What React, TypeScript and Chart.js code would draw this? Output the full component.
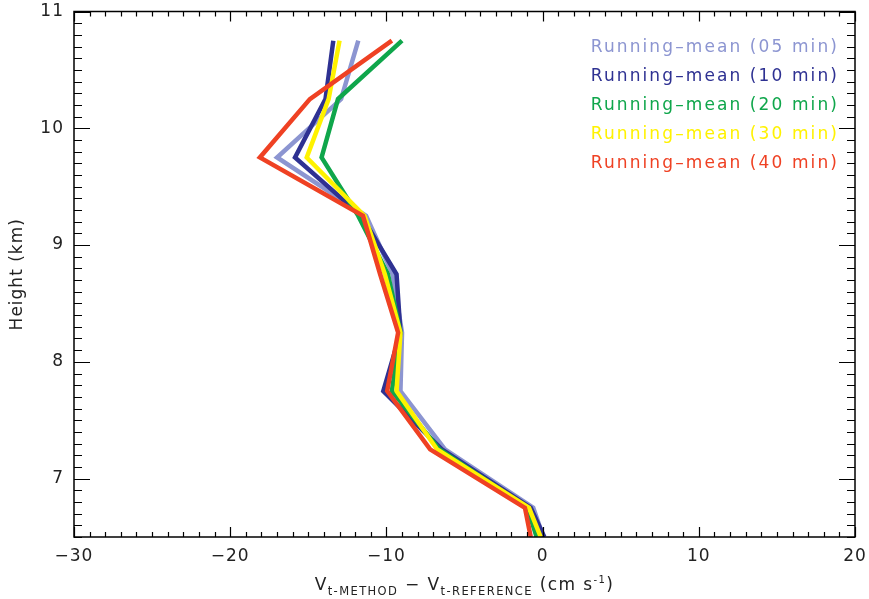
import React, { useEffect, useRef } from 'react';
import { Chart, registerables } from 'chart.js';

Chart.register(...registerables);

// Heights (km) of the profile vertices
const heights = [10.75, 10.25, 9.75, 9.25, 8.75, 8.25, 7.75, 7.25, 6.75, 6.5];
// Vt-METHOD - Vt-REFERENCE (cm s-1) for each running mean
const rm05 = [-11.8, -12.9, -17.0, -11.3, -9.6, -9.0, -9.1, -6.25, -0.6, 0.05];
const rm10 = [-13.4, -13.9, -15.85, -11.6, -9.35, -9.1, -10.2, -6.45, -0.76, 0.11];
const rm20 = [-9.0, -13.1, -14.15, -11.8, -9.9, -9.1, -9.65, -6.6, -0.98, -0.38];
const rm30 = [-13.0, -13.7, -15.1, -11.4, -10.1, -9.1, -9.35, -6.75, -0.87, -0.12];
const rm40 = [-9.65, -14.9, -18.1, -11.5, -10.4, -9.25, -9.95, -7.2, -1.13, -0.76];

const seriesLabels = [
  'Running–mean (05 min)',
  'Running–mean (10 min)',
  'Running–mean (20 min)',
  'Running–mean (30 min)',
  'Running–mean (40 min)',
];
const seriesColors = ['#8c95d1', '#2e3192', '#0fa64b', '#fff200', '#ef4123'];
const seriesValues = [rm05, rm10, rm20, rm30, rm40];

const xTicks = [-30, -20, -10, 0, 10, 20];
const yTicks = [7, 8, 9, 10, 11];

const FONT = '"DejaVu Sans", sans-serif';

const decorPlugin = {
  id: 'decor',
  beforeDraw(chart: any) {
    chart.ctx.letterSpacing = '1px';
  },
  afterDraw(chart: any) {
    const ctx = chart.ctx as CanvasRenderingContext2D;
    const { left, right, top, bottom } = chart.chartArea;
    const xs = chart.scales.x;
    const ys = chart.scales.y;
    ctx.save();
    // frame
    ctx.strokeStyle = '#000';
    ctx.lineWidth = 1.5;
    ctx.strokeRect(left, top, right - left, bottom - top);
    // ticks
    ctx.lineWidth = 1.2;
    ctx.beginPath();
    for (let v = -30; v <= 20; v += 1) {
      const px = Math.round(xs.getPixelForValue(v)) + 0.5;
      const len = v % 10 === 0 ? 10 : 5;
      ctx.moveTo(px, bottom);
      ctx.lineTo(px, bottom - len);
      ctx.moveTo(px, top);
      ctx.lineTo(px, top + len);
    }
    for (let i = 65; i <= 110; i++) {
      const py = Math.round(ys.getPixelForValue(i / 10)) + 0.5;
      const major = i % 10 === 0;
      const len = major ? 16 : 8;
      ctx.moveTo(left, py);
      ctx.lineTo(left + len, py);
      ctx.moveTo(right, py);
      ctx.lineTo(right - len, py);
    }
    ctx.stroke();

    // legend (coloured text, top right)
    ctx.letterSpacing = '2.1px';
    ctx.font = `17px ${FONT}`;
    ctx.textAlign = 'right';
    ctx.textBaseline = 'middle';
    seriesLabels.forEach((lab, i) => {
      ctx.fillStyle = seriesColors[i];
      ctx.fillText(lab, 839, 48 + i * 28.8);
    });

    // x-axis title with subscripts / superscript
    ctx.letterSpacing = '1.4px';
    ctx.textAlign = 'left';
    ctx.textBaseline = 'alphabetic';
    ctx.fillStyle = '#222';
    const pieces = [
      { t: 'V', s: 17, dy: 0 },
      { t: 't-METHOD', s: 11.5, dy: 5 },
      { t: ' − ', s: 17, dy: 0 },
      { t: 'V', s: 17, dy: 0 },
      { t: 't-REFERENCE', s: 11.5, dy: 5 },
      { t: ' (cm s', s: 17, dy: 0 },
      { t: '-1', s: 10, dy: -7 },
      { t: ')', s: 17, dy: 0 },
    ];
    let total = 0;
    const widths = pieces.map((p) => {
      ctx.font = `${p.s}px ${FONT}`;
      const w = ctx.measureText(p.t).width;
      total += w;
      return w;
    });
    let x = (left + right) / 2 - total / 2;
    const base = 590;
    pieces.forEach((p, i) => {
      ctx.font = `${p.s}px ${FONT}`;
      ctx.fillText(p.t, x, base + p.dy);
      x += widths[i];
    });
    ctx.restore();
  },
};

export default function App() {
  const ref = useRef<HTMLCanvasElement | null>(null);
  useEffect(() => {
    if (!ref.current) return;
    const chart = new Chart(ref.current, {
      type: 'scatter',
      data: {
        datasets: seriesValues.map((vals, i) => ({
          label: seriesLabels[i],
          data: vals.map((v, k) => ({ x: v, y: heights[k] })),
          showLine: true,
          borderColor: seriesColors[i],
          backgroundColor: seriesColors[i],
          borderWidth: 4.5,
          pointRadius: 0,
          tension: 0,
          order: 5 - i,
        })),
      },
      options: {
        animation: false,
        responsive: false,
        devicePixelRatio: 1,
        layout: { padding: { left: 0, top: 0, right: 0, bottom: 0 } },
        plugins: {
          legend: { display: false },
          tooltip: { enabled: false },
        },
        scales: {
          x: {
            type: 'linear',
            min: -30,
            max: 20,
            afterBuildTicks: (s: any) => {
              s.ticks = xTicks.map((v) => ({ value: v }));
            },
            afterFit: (s: any) => {
              s.height = 62;
              s.paddingRight = 14;
            },
            grid: { display: false, drawTicks: false },
            border: { display: false },
            ticks: {
              padding: 9,
              color: '#222',
              font: { family: FONT, size: 17 },
              maxRotation: 0,
              callback: (v: any) => (v < 0 ? '−' + Math.abs(v) : String(v)),
            },
          },
          y: {
            type: 'linear',
            min: 6.5,
            max: 11,
            afterBuildTicks: (s: any) => {
              s.ticks = yTicks.map((v) => ({ value: v }));
            },
            afterFit: (s: any) => {
              s.width = 74;
              s.paddingTop = 11.5;
            },
            grid: { display: false, drawTicks: false },
            border: { display: false },
            title: {
              display: true,
              text: 'Height (km)',
              color: '#222',
              font: { family: FONT, size: 17 },
              padding: { top: 7, bottom: 0 },
            },
            ticks: {
              padding: 10,
              color: '#222',
              font: { family: FONT, size: 17 },
            },
          },
        },
      },
      plugins: [decorPlugin],
    });
    return () => chart.destroy();
  }, []);
  return (
    <div style={{ position: 'fixed', left: 0, top: 0, width: 869, height: 599, background: '#fff' }}>
      <canvas ref={ref} width={869} height={599} style={{ width: 869, height: 599, display: 'block' }} />
    </div>
  );
}
